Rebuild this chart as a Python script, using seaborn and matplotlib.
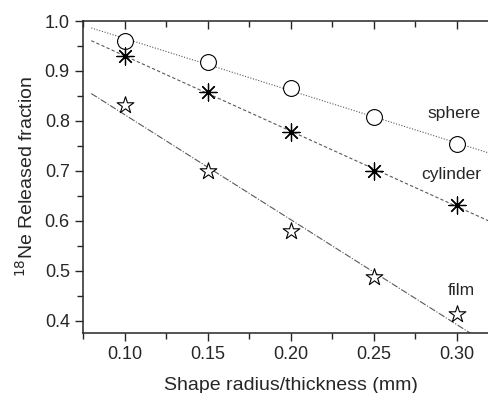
import matplotlib
matplotlib.use("Agg")
import matplotlib.pyplot as plt
import matplotlib.lines as mlines
from matplotlib.ticker import MultipleLocator
import seaborn as sns
import numpy as np
import pandas as pd

# data
size_mm = [0.10, 0.15, 0.20, 0.25, 0.30]
sphere = [0.960, 0.917, 0.865, 0.808, 0.753]
cylinder = [0.930, 0.858, 0.778, 0.700, 0.632]
film = [0.832, 0.700, 0.580, 0.487, 0.413]
shapes = ["sphere", "cylinder", "film"]

sns.set_style("ticks")
plt.rcParams["font.family"] = ["Liberation Sans", "DejaVu Sans"]

df = pd.DataFrame({"size": size_mm * 3,
                   "fraction": sphere + cylinder + film,
                   "shape": np.repeat(shapes, len(size_mm))})

fig = plt.figure(figsize=(4.88, 3.93), dpi=100)
ax = fig.add_axes([83 / 488, 60 / 393, (498 - 83) / 488, (333 - 21) / 393])

markers = {"sphere": "o", "cylinder": (8, 2, 0), "film": "*"}
styles = {"sphere": (0, (1, 1.5)), "cylinder": (0, (3, 2)), "film": (0, (6, 1.5, 1, 1.5))}
label_pos = {"sphere": (0.2825, 0.815), "cylinder": (0.279, 0.692), "film": (0.2945, 0.46)}

# linear fit lines, extended across the plot
xfit = np.linspace(0.08, 0.33, 50)
for shape in shapes:
    sub = df[df["shape"] == shape]
    k, b = np.polyfit(sub["size"], sub["fraction"], 1)
    ax.plot(xfit, k * xfit + b, color="0.35", lw=0.8, ls=styles[shape])
    if shape == "cylinder":
        sns.scatterplot(data=sub, x="size", y="fraction", marker=markers[shape],
                        s=150, color="black", linewidth=0.9, ax=ax, zorder=3)
    else:
        sns.scatterplot(data=sub, x="size", y="fraction", marker=markers[shape],
                        s=130 if shape == "sphere" else 160, facecolor="white",
                        edgecolor="black", linewidth=0.8, ax=ax, zorder=3)
    ax.text(*label_pos[shape], shape, fontsize=12.5, ha="left", va="center")

ax.set_xlim(0.075, 0.325)
ax.set_ylim(0.375, 1.0)
ax.xaxis.set_major_locator(MultipleLocator(0.05))
ax.xaxis.set_minor_locator(MultipleLocator(0.025))
ax.yaxis.set_major_locator(MultipleLocator(0.1))
ax.yaxis.set_minor_locator(MultipleLocator(0.05))
ax.xaxis.set_major_formatter(lambda v, p: f"{v:.2f}")
ax.yaxis.set_major_formatter(lambda v, p: f"{v:.1f}")
ax.tick_params(axis="both", which="major", labelsize=13, length=6, width=1)
ax.tick_params(axis="both", which="minor", length=4, width=1)
ax.tick_params(axis="x", which="both", top=True, labeltop=False)
ax.spines["top"].set_visible(True)
ax.spines["right"].set_visible(False)
for sp in ax.spines.values():
    sp.set_linewidth(1.1)

# top ticks point down into the plot, bottom ticks point out
for t in ax.xaxis.get_major_ticks() + ax.xaxis.get_minor_ticks():
    t.tick2line.set_marker(mlines.TICKDOWN)

ax.set_xlabel("Shape radius/thickness (mm)", fontsize=14, labelpad=10)
ax.set_ylabel("$^{18}$Ne Released fraction", fontsize=14, labelpad=6)

fig.savefig("out.png", dpi=100)
